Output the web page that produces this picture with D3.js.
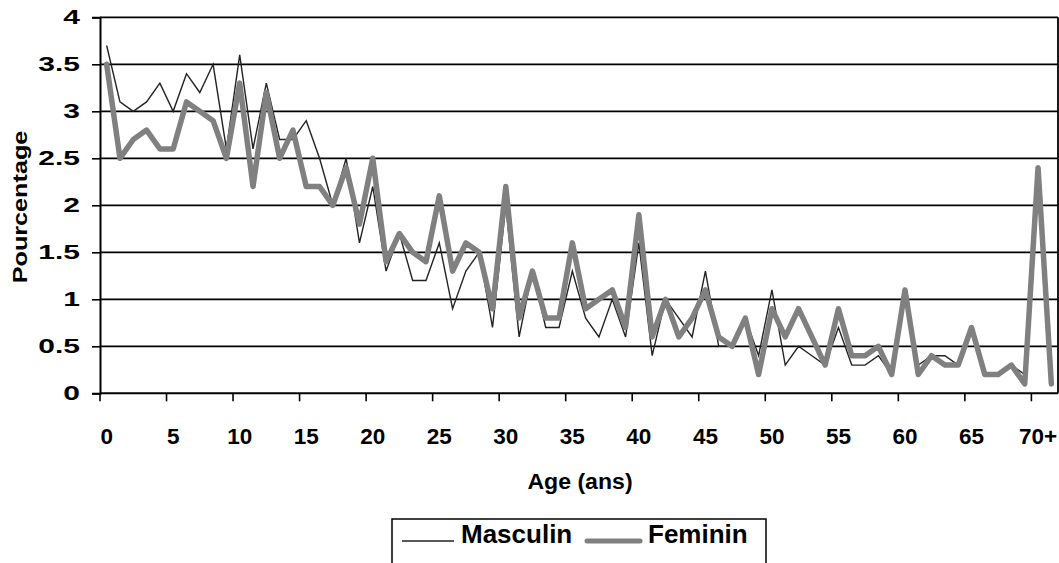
<!DOCTYPE html>
<html>
<head>
<meta charset="utf-8">
<script src="https://cdn.jsdelivr.net/npm/d3@7"></script>
<style>
  html, body { margin: 0; padding: 0; background: #fff; }
  svg { display: block; }
  text { font-family: "Liberation Sans", Arial, sans-serif; font-weight: bold; fill: #000; }
</style>
</head>
<body>
<svg id="chart" width="1059" height="563"></svg>
<script>
// ---- data ----
const categories = ["0","1","2","3","4","5","6","7","8","9",
  "10","11","12","13","14","15","16","17","18","19",
  "20","21","22","23","24","25","26","27","28","29",
  "30","31","32","33","34","35","36","37","38","39",
  "40","41","42","43","44","45","46","47","48","49",
  "50","51","52","53","54","55","56","57","58","59",
  "60","61","62","63","64","65","66","67","68","69",
  "70+","ND"];
const tickLabels = ["0","5","10","15","20","25","30","35","40","45","50","55","60","65","70+"];
const yTicks = [0, 0.5, 1, 1.5, 2, 2.5, 3, 3.5, 4];
const masculin = [3.7,3.1,3.0,3.1,3.3,3.0,3.4,3.2,3.5,2.6,
  3.6,2.6,3.3,2.7,2.7,2.9,2.5,2.0,2.5,1.6,
  2.2,1.3,1.7,1.2,1.2,1.6,0.9,1.3,1.5,0.7,
  2.0,0.6,1.3,0.7,0.7,1.3,0.8,0.6,1.0,0.6,
  1.6,0.4,1.0,0.8,0.6,1.3,0.5,0.5,0.8,0.4,
  1.1,0.3,0.5,0.4,0.3,0.7,0.3,0.3,0.4,0.2,
  1.1,0.3,0.4,0.4,0.3,0.7,0.2,0.2,0.3,0.2,
  2.4,0.1];
const feminin = [3.5,2.5,2.7,2.8,2.6,2.6,3.1,3.0,2.9,2.5,
  3.3,2.2,3.2,2.5,2.8,2.2,2.2,2.0,2.4,1.8,
  2.5,1.4,1.7,1.5,1.4,2.1,1.3,1.6,1.5,0.9,
  2.2,0.8,1.3,0.8,0.8,1.6,0.9,1.0,1.1,0.7,
  1.9,0.6,1.0,0.6,0.8,1.1,0.6,0.5,0.8,0.2,
  0.9,0.6,0.9,0.6,0.3,0.9,0.4,0.4,0.5,0.2,
  1.1,0.2,0.4,0.3,0.3,0.7,0.2,0.2,0.3,0.1,
  2.4,0.1];
const seriesNames = ["Masculin", "Feminin"];

(function () {
// ---- layout ----
const svg = d3.select("#chart");
const pLeft = 100, pRight = 1058, pTop = 17.3, pBottom = 393.3;

const x = d3.scaleBand().domain(categories).range([pLeft, pRight]).padding(0);
const y = d3.scaleLinear().domain([0, 4]).range([pBottom, pTop]);
const cx = c => x(c) + x.bandwidth() / 2;

// gridlines
svg.append("g").selectAll("line").data(yTicks.filter(v => v > 0)).join("line")
  .attr("x1", pLeft).attr("x2", pRight)
  .attr("y1", d => y(d)).attr("y2", d => y(d))
  .attr("stroke", "#000").attr("stroke-width", 1.8);

// right border
svg.append("line").attr("x1", pRight).attr("x2", pRight).attr("y1", pTop).attr("y2", pBottom)
  .attr("stroke", "#000").attr("stroke-width", 1.8);

// y axis
const ySx = 1.5;
const yAxis = d3.axisLeft(y).tickValues(yTicks).tickSize(8).tickPadding(12)
  .tickFormat(d => String(d));
const gy = svg.append("g").attr("transform", `translate(${pLeft},0)`).call(yAxis);
gy.select(".domain").attr("stroke", "#000").attr("stroke-width", 2);
gy.selectAll(".tick line").attr("stroke", "#000").attr("stroke-width", 1.6);
gy.selectAll(".tick text").attr("font-size", 20).attr("font-family", "Liberation Sans, Arial, sans-serif")
  .attr("font-weight", "bold").attr("fill", "#000")
  .attr("x", -20 / ySx).attr("transform", `scale(${ySx},1)`);

// x axis: ticks at category boundaries every 5, labels at category centers
const boundaryCats = categories.filter((c, i) => i % 5 === 0);
const gx = svg.append("g");
gx.append("line").attr("x1", pLeft).attr("x2", pRight).attr("y1", pBottom).attr("y2", pBottom)
  .attr("stroke", "#000").attr("stroke-width", 2);
gx.selectAll("line.tk").data(boundaryCats).join("line").attr("class", "tk")
  .attr("x1", d => x(d)).attr("x2", d => x(d))
  .attr("y1", pBottom).attr("y2", pBottom + 8)
  .attr("stroke", "#000").attr("stroke-width", 1.6);
gx.selectAll("text").data(tickLabels).join("text")
  .attr("x", d => cx(d)).attr("y", pBottom + 51)
  .attr("text-anchor", "middle").attr("font-size", 22.5)
  .text(d => d);

// lines
const line = d3.line().x((d, i) => cx(categories[i])).y(d => y(d));
svg.append("path").datum(masculin).attr("d", line)
  .attr("fill", "none").attr("stroke", "#222").attr("stroke-width", 1.4)
  .attr("stroke-linejoin", "miter");
svg.append("path").datum(feminin).attr("d", line)
  .attr("fill", "none").attr("stroke", "#808080").attr("stroke-width", 5.5)
  .attr("stroke-linejoin", "round").attr("stroke-linecap", "round");

// axis titles
svg.append("text").attr("x", 580).attr("y", 489).attr("text-anchor", "middle")
  .attr("font-size", 22).attr("transform", "translate(580,0) scale(1.05,1) translate(-580,0)")
  .text("Age (ans)");
svg.append("text").attr("transform", "translate(27,207) rotate(-90) scale(1.2,1)")
  .attr("text-anchor", "middle").attr("font-size", 21).text("Pourcentage");

// legend
const lg = svg.append("g");
lg.append("rect").attr("x", 392).attr("y", 519).attr("width", 374).attr("height", 60)
  .attr("fill", "#fff").attr("stroke", "#000").attr("stroke-width", 1.5);
const legendItems = [
  { name: seriesNames[0], x1: 402, x2: 454, tx: 461, color: "#222", w: 1.4 },
  { name: seriesNames[1], x1: 587, x2: 640, tx: 648, color: "#808080", w: 5 }
];
legendItems.forEach(it => {
  lg.append("line").attr("x1", it.x1).attr("x2", it.x2).attr("y1", 541).attr("y2", 541)
    .attr("stroke", it.color).attr("stroke-width", it.w).attr("stroke-linecap", it.w > 2 ? "round" : "butt");
  lg.append("text").attr("x", it.tx).attr("y", 543).attr("font-size", 26).text(it.name);
});
})();
</script>
</body>
</html>
